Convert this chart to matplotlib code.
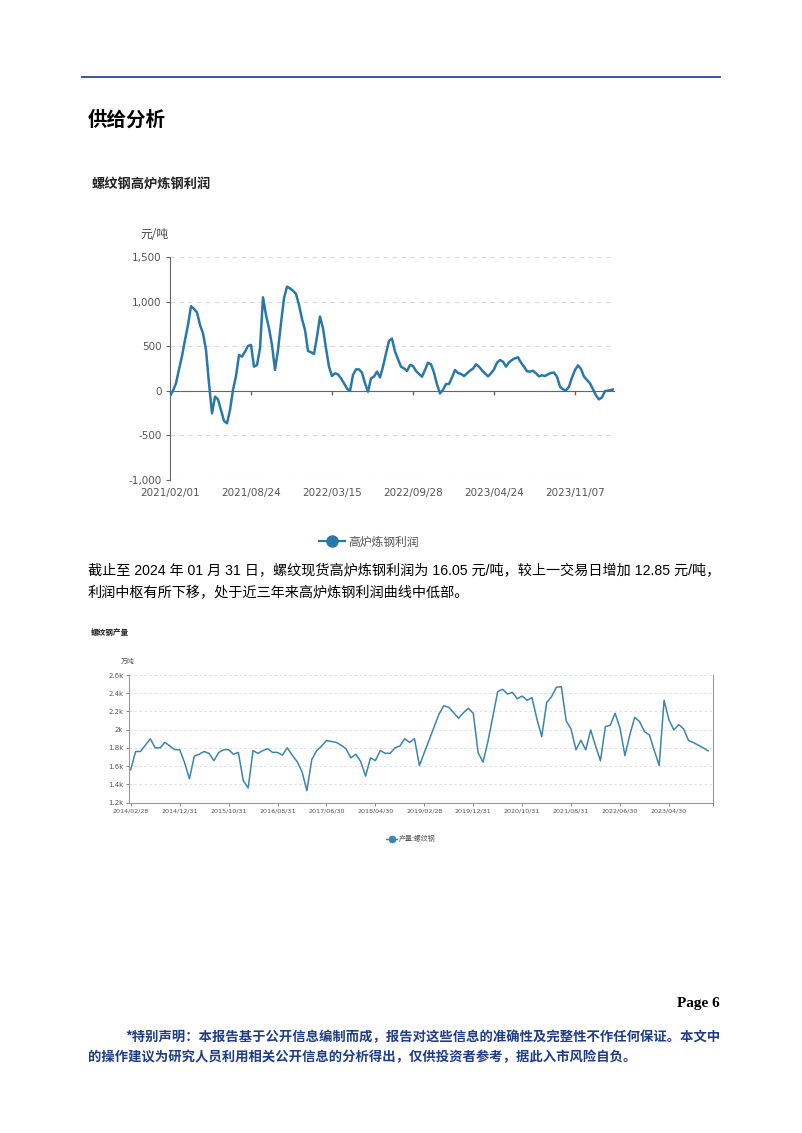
import matplotlib.pyplot as plt
from matplotlib.lines import Line2D

plt.rcParams['font.family'] = ['Noto Sans CJK SC', 'DejaVu Sans']

W, H = 802, 1133

# 高炉炼钢利润 (元/吨) at roughly weekly steps, 2021/02/01 - 2024/01/31
profit = [-60, 0, 83, 240, 390, 570, 740, 950, 920, 880,
          740, 645, 458, 83, -255, -67, -97, -217, -340, -367,
          -217, 8, 165, 402, 383, 439, 503, 514, 270, 289,
          477, 1050, 852, 702, 514, 233, 458, 758, 1040, 1170,
          1150, 1125, 1088, 964, 807, 683, 447, 432, 413, 608,
          833, 702, 477, 270, 165, 195, 184, 139, 83, 23,
          -3, 177, 240, 240, 203, 83, -11, 139, 158, 214,
          150, 270, 420, 560, 585, 440, 353, 270, 251, 221,
          289, 278, 221, 188, 158, 233, 315, 296, 203, 71,
          -30, 10, 75, 75, 150, 233, 199, 188, 165, 195,
          225, 248, 296, 270, 229, 195, 161, 195, 240, 315,
          345, 326, 270, 319, 345, 364, 375, 315, 270, 218,
          214, 225, 195, 161, 173, 165, 184, 199, 203, 158,
          45, 15, 4, 45, 150, 233, 285, 244, 158, 120,
          83, 15, -53, -98, -75, -4, 0, 8, 16]
profit_ticks = ['2021/02/01', '2021/08/24', '2022/03/15', '2022/09/28', '2023/04/24', '2023/11/07']
profit_tick_pos = [0, 27, 54, 81, 108, 135]
profit_yticks = [-1000, -500, 0, 500, 1000, 1500]
profit_ylabels = ['-1,000', '-500', '0', '500', '1,000', '1,500']

# 产量:螺纹钢 (万吨), monthly 2014/02 - 2023/12
output = [1560, 1760, 1760, 1830, 1900, 1800, 1800, 1860, 1820, 1780, 1780,
          1640, 1460, 1710, 1730, 1760, 1740, 1660, 1750, 1780, 1780, 1730, 1750,
          1440, 1360, 1770, 1740, 1770, 1790, 1750, 1750, 1720, 1800, 1720, 1650,
          1540, 1330, 1670, 1770, 1820, 1880, 1870, 1860, 1830, 1790, 1690, 1730,
          1650, 1490, 1690, 1660, 1770, 1740, 1740, 1800, 1820, 1900, 1860, 1900,
          1606, 1748, 1888, 2029, 2170, 2263, 2245, 2186, 2125, 2186, 2235, 2180,
          1748, 1643, 1869, 2143, 2417, 2443, 2391, 2410, 2340, 2369, 2322, 2352,
          2121, 1923, 2296, 2362, 2465, 2472, 2095, 2004, 1778, 1884, 1778, 1997,
          1821, 1657, 2033, 2048, 2180, 2015, 1715, 1942, 2136, 2088, 1978, 1942,
          1771, 1606, 2322, 2106, 1997, 2055, 2008, 1880, 1858, 1829, 1800, 1767]
output_ticks = ['2014/02/28', '2014/12/31', '2015/10/31', '2016/08/31', '2017/06/30', '2018/04/30',
                '2019/02/28', '2019/12/31', '2020/10/31', '2021/08/31', '2022/06/30', '2023/04/30']
output_yticks = [1200, 1400, 1600, 1800, 2000, 2200, 2400, 2600]
output_ylabels = ['1.2k', '1.4k', '1.6k', '1.8k', '2k', '2.2k', '2.4k', '2.6k']

para1 = '截止至 2024 年 01 月 31 日，螺纹现货高炉炼钢利润为 16.05 元/吨，较上一交易日增加 12.85 元/吨，'
para2 = '利润中枢有所下移，处于近三年来高炉炼钢利润曲线中低部。'
note1 = '*特别声明：本报告基于公开信息编制而成，报告对这些信息的准确性及完整性不作任何保证。本文中'
note2 = '的操作建议为研究人员利用相关公开信息的分析得出，仅供投资者参考，据此入市风险自负。'

BLUE1 = '#2a78aa'
BLUE2 = '#3a86ad'
GREY = '#555555'


def fx(x):
    return x / W


def fy(y):
    return 1 - y / H


fig = plt.figure(figsize=(W / 100, H / 100), dpi=100)

# page header
fig.add_artist(Line2D([fx(82), fx(720)], [fy(77), fy(77)], color='#3f51a3', lw=1.4))
fig.text(fx(88), fy(120), '供给分析', fontsize=14, fontweight='bold', va='center', color='black')
fig.text(fx(92), fy(184), '螺纹钢高炉炼钢利润', fontsize=9.5, fontweight='bold', va='center', color='#222222')
fig.text(fx(140), fy(235), '元/吨', fontsize=8.5, va='center', color='#444444')

# chart 1
ax1 = fig.add_axes([fx(170), fy(479.6), 444 / W, 222.3 / H])
ax1.plot(range(len(profit)), profit, color=BLUE1, lw=1.8, zorder=3)
ax1.set_xlim(0, len(profit) - 1)
ax1.set_ylim(-1000, 1500)
for yv in profit_yticks:
    if yv != 0:
        ax1.axhline(yv, color='#d9d9d9', lw=0.8, ls=(0, (4, 4)), zorder=0)
ax1.set_yticks(profit_yticks)
ax1.set_yticklabels(profit_ylabels, fontsize=7.5, color=GREY, family='DejaVu Sans')
ax1.set_xticks(profit_tick_pos)
ax1.tick_params(axis='x', labelbottom=False, length=3, color='#666666', width=1)
ax1.tick_params(axis='y', length=3, color='#666666', pad=3)
for s in ['top', 'right']:
    ax1.spines[s].set_visible(False)
ax1.spines['bottom'].set_position(('data', 0))
ax1.spines['bottom'].set_color('#666666')
ax1.spines['left'].set_color('#666666')
for p, lab in zip(profit_tick_pos, profit_ticks):
    ax1.text(p, -0.06, lab, transform=ax1.get_xaxis_transform(), ha='center', va='center',
             fontsize=7.5, color=GREY, family='DejaVu Sans')

h1 = Line2D([], [], color=BLUE1, lw=1.6, marker='o', markersize=8)
fig.legend([h1], ['高炉炼钢利润'], loc='center', bbox_to_anchor=(fx(369), fy(542)), frameon=False,
           fontsize=8.5, labelcolor=GREY, handlelength=2.2, handletextpad=0.3)

# paragraph
fig.text(fx(88), fy(571), para1, fontsize=10.2, va='center', family=['Liberation Sans', 'Noto Sans CJK SC'])
fig.text(fx(88), fy(593), para2, fontsize=10.2, va='center', family=['Liberation Sans', 'Noto Sans CJK SC'])

# chart 2
fig.text(fx(91), fy(632), '螺纹钢产量', fontsize=5.5, fontweight='bold', va='center', color='#222222')
fig.text(fx(121), fy(662), '万吨', fontsize=5, va='center', color=GREY)

ax2 = fig.add_axes([fx(129), fy(802.5), 584 / W, 127.5 / H])
ax2.plot(range(len(output)), output, color=BLUE2, lw=1.1, zorder=3)
ax2.set_xlim(-0.35, 119)
ax2.set_ylim(1200, 2600)
for yv in output_yticks[1:]:
    ax2.axhline(yv, color='#d9d9d9', lw=0.6, ls=(0, (3, 3)), zorder=0)
ax2.set_yticks(output_yticks)
ax2.set_yticklabels(output_ylabels, fontsize=5, color=GREY, family='DejaVu Sans')
ax2.set_xticks(list(range(0, 120, 10)) + [119])
ax2.set_xticklabels(output_ticks + [''], fontsize=4.6, color=GREY, family='DejaVu Sans')
ax2.tick_params(length=2.5, color='#888888', width=0.7, pad=1.5)
ax2.spines['top'].set_visible(False)
for s in ['left', 'bottom', 'right']:
    ax2.spines[s].set_color('#999999')
    ax2.spines[s].set_linewidth(0.8)

h2 = Line2D([], [], color=BLUE2, lw=1.0, marker='o', markersize=4.5)
fig.legend([h2], ['产量:螺纹钢'], loc='center', bbox_to_anchor=(fx(411), fy(839)), frameon=False,
           fontsize=5, labelcolor=GREY, handlelength=1.6, handletextpad=0.3)

# footer
fig.text(fx(720), fy(1004), 'Page 6', fontsize=11, fontweight='bold', ha='right', va='center',
         family='Liberation Serif')
fig.text(fx(125), fy(1037), note1, fontsize=9.6, fontweight='bold', va='center', color='#1f3c88')
fig.text(fx(88), fy(1057), note2, fontsize=9.6, fontweight='bold', va='center', color='#1f3c88')

fig.savefig('out.png', dpi=100)
